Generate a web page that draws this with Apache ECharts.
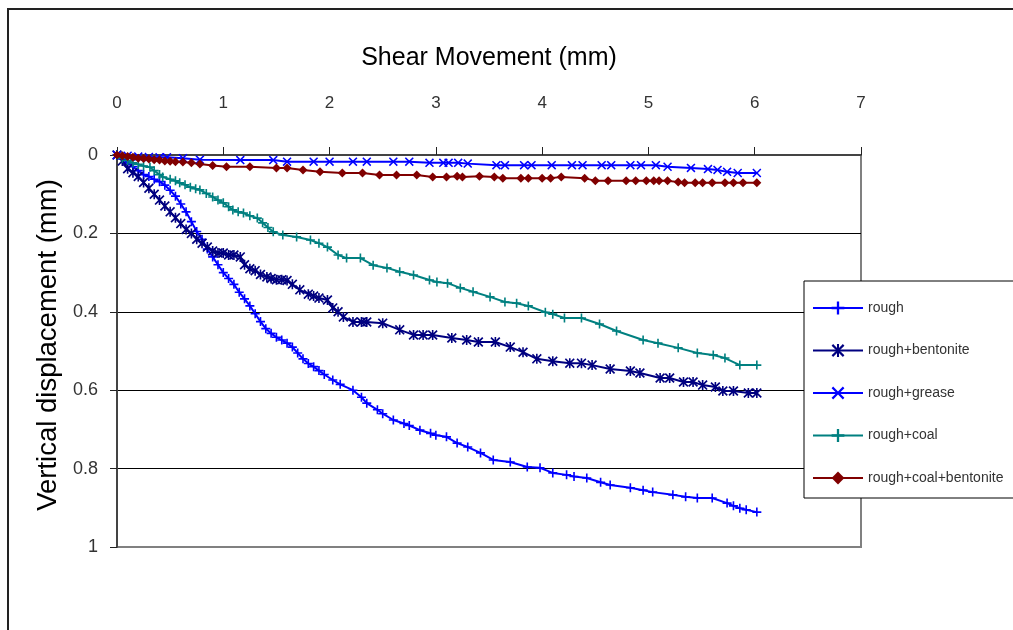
<!DOCTYPE html>
<html>
<head>
<meta charset="utf-8">
<title>Shear Movement vs Vertical Displacement</title>
<script src="https://cdn.jsdelivr.net/npm/echarts@6/dist/echarts.min.js"></script>
<style>
  html, body { margin: 0; padding: 0; background: #fff; }
  #chart { width: 1013px; height: 630px; }
</style>
</head>
<body>
<div id="chart"></div>
<script>
// Shear movement (mm) / vertical displacement (mm) pairs for each test
const roughData = [
  [0,0],[0.05,0.01],[0.1,0.02],[0.15,0.03],[0.2,0.04],[0.25,0.05],[0.3,0.055],[0.35,0.062],
  [0.4,0.068],[0.45,0.077],[0.5,0.09],[0.55,0.105],[0.6,0.125],[0.65,0.145],[0.7,0.17],
  [0.75,0.195],[0.8,0.215],[0.85,0.24],[0.9,0.26],[0.95,0.28],[1.0,0.3],[1.05,0.315],
  [1.1,0.33],[1.15,0.35],[1.2,0.367],[1.25,0.385],[1.3,0.405],[1.35,0.425],[1.4,0.443],
  [1.45,0.455],[1.5,0.465],[1.55,0.472],[1.6,0.48],[1.65,0.49],[1.7,0.505],[1.75,0.52],
  [1.8,0.532],[1.85,0.54],[1.9,0.55],[1.95,0.56],[2.03,0.574],[2.1,0.585],[2.22,0.6],
  [2.3,0.618],[2.35,0.633],[2.45,0.65],[2.5,0.66],[2.6,0.676],[2.7,0.685],[2.75,0.69],
  [2.85,0.702],[2.95,0.71],[3.0,0.715],[3.1,0.719],[3.2,0.735],[3.3,0.745],[3.42,0.76],
  [3.54,0.778],[3.7,0.783],[3.86,0.796],[3.98,0.798],[4.1,0.811],[4.23,0.816],[4.3,0.82],
  [4.42,0.824],[4.55,0.835],[4.64,0.842],[4.83,0.849],[4.95,0.855],[5.04,0.86],[5.23,0.867],
  [5.35,0.872],[5.46,0.875],[5.6,0.875],[5.74,0.888],[5.8,0.895],[5.86,0.901],[5.92,0.905],
  [6.02,0.911]
];

const bentoniteData = [
  [0,0],[0.05,0.015],[0.1,0.035],[0.15,0.045],[0.2,0.055],[0.25,0.07],[0.3,0.085],[0.35,0.1],
  [0.4,0.115],[0.45,0.13],[0.5,0.145],[0.55,0.16],[0.6,0.175],[0.65,0.19],[0.7,0.2],
  [0.75,0.215],[0.8,0.225],[0.85,0.235],[0.9,0.245],[0.95,0.25],[1.0,0.25],[1.05,0.255],
  [1.1,0.255],[1.16,0.26],[1.2,0.28],[1.25,0.29],[1.3,0.295],[1.35,0.305],[1.41,0.311],
  [1.45,0.315],[1.5,0.318],[1.55,0.318],[1.6,0.32],[1.65,0.33],[1.72,0.344],[1.8,0.355],
  [1.85,0.36],[1.9,0.365],[1.98,0.37],[2.03,0.39],[2.08,0.4],[2.13,0.413],[2.22,0.426],
  [2.3,0.426],[2.35,0.426],[2.5,0.429],[2.66,0.446],[2.79,0.459],[2.88,0.459],[2.97,0.459],
  [3.15,0.467],[3.29,0.472],[3.4,0.477],[3.56,0.477],[3.7,0.49],[3.82,0.503],[3.95,0.52],
  [4.1,0.526],[4.26,0.531],[4.37,0.531],[4.47,0.536],[4.64,0.546],[4.83,0.551],[4.92,0.556],
  [5.11,0.569],[5.2,0.569],[5.33,0.579],[5.42,0.579],[5.51,0.587],[5.63,0.592],[5.7,0.602],
  [5.8,0.602],[5.94,0.607],[6.02,0.607]
];

const greaseData = [
  [0,0],[0.1,0.002],[0.2,0.004],[0.3,0.005],[0.4,0.006],[0.47,0.006],[0.62,0.008],[0.78,0.012],
  [1.16,0.013],[1.47,0.013],[1.6,0.017],[1.85,0.017],[2.0,0.017],[2.22,0.017],[2.35,0.017],
  [2.6,0.017],[2.75,0.017],[2.94,0.02],[3.07,0.02],[3.12,0.02],[3.21,0.02],[3.3,0.022],
  [3.57,0.026],[3.65,0.026],[3.83,0.026],[3.9,0.026],[4.09,0.026],[4.28,0.026],[4.38,0.026],
  [4.56,0.026],[4.65,0.026],[4.83,0.026],[4.93,0.026],[5.07,0.026],[5.18,0.03],[5.4,0.033],
  [5.56,0.036],[5.65,0.038],[5.74,0.043],[5.84,0.046],[6.02,0.046]
];

const coalData = [
  [0,0],[0.05,0.008],[0.1,0.014],[0.15,0.02],[0.2,0.024],[0.25,0.028],[0.31,0.031],[0.35,0.04],
  [0.4,0.05],[0.43,0.056],[0.5,0.062],[0.55,0.066],[0.59,0.071],[0.64,0.076],[0.69,0.082],
  [0.74,0.086],[0.78,0.089],[0.84,0.098],[0.9,0.107],[0.95,0.115],[1.0,0.122],[1.05,0.132],
  [1.09,0.14],[1.14,0.145],[1.19,0.148],[1.25,0.155],[1.32,0.161],[1.37,0.173],[1.42,0.185],
  [1.47,0.196],[1.56,0.204],[1.69,0.209],[1.82,0.217],[1.9,0.225],[1.98,0.235],[2.08,0.255],
  [2.16,0.263],[2.29,0.263],[2.41,0.281],[2.54,0.288],[2.66,0.298],[2.79,0.306],[2.94,0.319],
  [3.01,0.324],[3.11,0.327],[3.23,0.339],[3.35,0.349],[3.51,0.362],[3.65,0.375],[3.76,0.378],
  [3.87,0.385],[4.03,0.401],[4.1,0.406],[4.21,0.416],[4.37,0.416],[4.54,0.431],[4.7,0.449],
  [4.95,0.472],[5.09,0.48],[5.28,0.492],[5.46,0.505],[5.61,0.51],[5.72,0.518],[5.86,0.536],
  [6.02,0.536]
];

const coalBentoniteData = [
  [0,0],[0.05,0.002],[0.1,0.004],[0.15,0.006],[0.2,0.008],[0.25,0.009],[0.3,0.01],[0.35,0.012],
  [0.4,0.013],[0.45,0.015],[0.5,0.016],[0.55,0.017],[0.62,0.018],[0.7,0.02],[0.78,0.023],
  [0.9,0.027],[1.03,0.03],[1.25,0.03],[1.5,0.033],[1.6,0.033],[1.75,0.038],[1.91,0.043],
  [2.12,0.046],[2.31,0.046],[2.47,0.051],[2.63,0.051],[2.82,0.051],[2.97,0.056],[3.1,0.056],
  [3.2,0.054],[3.25,0.056],[3.41,0.054],[3.55,0.056],[3.63,0.059],[3.8,0.059],[3.87,0.059],
  [4.0,0.059],[4.08,0.059],[4.18,0.056],[4.4,0.059],[4.5,0.066],[4.62,0.066],[4.79,0.066],
  [4.88,0.066],[4.98,0.066],[5.05,0.066],[5.1,0.066],[5.18,0.066],[5.28,0.069],[5.34,0.071],
  [5.44,0.071],[5.51,0.071],[5.6,0.071],[5.72,0.071],[5.8,0.071],[5.89,0.071],[6.02,0.071]
];

const seriesNames = ['rough', 'rough+bentonite', 'rough+grease', 'rough+coal', 'rough+coal+bentonite'];
const xTicks = { min: 0, max: 7, step: 1 };
const yTicks = { min: 0, max: 1, step: 0.2 };

// Marker outlines drawn as filled paths
const PLUS = 'path://M4.1,0H5.9V4.1H10V5.9H5.9V10H4.1V5.9H0V4.1H4.1Z';
const CROSS = 'path://M0,1.2L1.2,0L5,3.8L8.8,0L10,1.2L6.2,5L10,8.8L8.8,10L5,6.2L1.2,10L0,8.8L3.8,5Z';
const STAR = 'path://M0,1.2L1.2,0L5,3.8L8.8,0L10,1.2L6.2,5L10,8.8L8.8,10L5,6.2L1.2,10L0,8.8L3.8,5Z' +
             'M4.2,0H5.8V10H4.2Z';

const FONT = 'Liberation Sans, Arial, sans-serif';

function lineSeries(name, data, color, symbol, size) {
  return {
    name: name,
    type: 'line',
    data: data,
    symbol: symbol,
    symbolSize: size,
    showAllSymbol: true,
    lineStyle: { color: color, width: 2 },
    itemStyle: { color: color, borderWidth: 0 },
    emphasis: { disabled: true },
    animation: false
  };
}

const chart = echarts.init(document.getElementById('chart'), null, { renderer: 'canvas' });

chart.setOption({
  backgroundColor: '#ffffff',
  animation: false,
  grid: {
    left: 117, top: 155, right: 152, bottom: 83,
    show: true, borderColor: '#808080', borderWidth: 2, backgroundColor: 'transparent'
  },
  xAxis: {
    type: 'value',
    position: 'top',
    min: xTicks.min, max: xTicks.max, interval: xTicks.step,
    name: 'Shear Movement (mm)',
    nameLocation: 'middle',
    nameGap: 84,
    nameTextStyle: { fontFamily: FONT, fontSize: 25, color: '#000' },
    axisLine: { show: true, lineStyle: { color: '#444', width: 2 } },
    axisTick: { show: true, inside: false, length: 8, lineStyle: { color: '#222', width: 1 } },
    axisLabel: { margin: 43, fontFamily: FONT, fontSize: 17, color: '#333' },
    splitLine: { show: false }
  },
  yAxis: {
    type: 'value',
    inverse: true,
    min: yTicks.min, max: yTicks.max, interval: yTicks.step,
    name: 'Vertical displacement (mm)',
    nameLocation: 'middle',
    nameGap: 52,
    nameRotate: 90,
    nameTextStyle: { fontFamily: FONT, fontSize: 27.5, color: '#000', padding: [0, 0, 0, 12] },
    axisLine: { show: true, lineStyle: { color: '#444', width: 2 } },
    axisTick: { show: true, length: 7, lineStyle: { color: '#222', width: 1 } },
    axisLabel: { margin: 19, fontFamily: FONT, fontSize: 18, color: '#333' },
    splitLine: {
      show: true,
      lineStyle: { color: ['transparent', '#000', '#000', '#000', '#000', 'transparent'], width: 1 }
    }
  },
  legend: {
    orient: 'vertical',
    left: 804,
    top: 281,
    padding: [20, 40, 13, 8],
    itemWidth: 50,
    itemHeight: 16,
    itemGap: 28.5,
    borderColor: '#000',
    borderWidth: 1,
    backgroundColor: '#fff',
    textStyle: { fontFamily: FONT, fontSize: 14, color: '#333' },
    data: seriesNames
  },
  graphic: [
    {
      type: 'rect',
      silent: true,
      z: -1,
      shape: { x: 8, y: 9, width: 1200, height: 800 },
      style: { fill: 'none', stroke: '#222', lineWidth: 2 }
    }
  ],
  series: [
    lineSeries(seriesNames[0], roughData, '#0000ff', PLUS, 9),
    lineSeries(seriesNames[1], bentoniteData, '#000080', STAR, 10),
    lineSeries(seriesNames[2], greaseData, '#0000ff', CROSS, 9),
    lineSeries(seriesNames[3], coalData, '#008080', PLUS, 9),
    lineSeries(seriesNames[4], coalBentoniteData, '#800000', 'diamond', 9)
  ]
});
</script>
</body>
</html>
